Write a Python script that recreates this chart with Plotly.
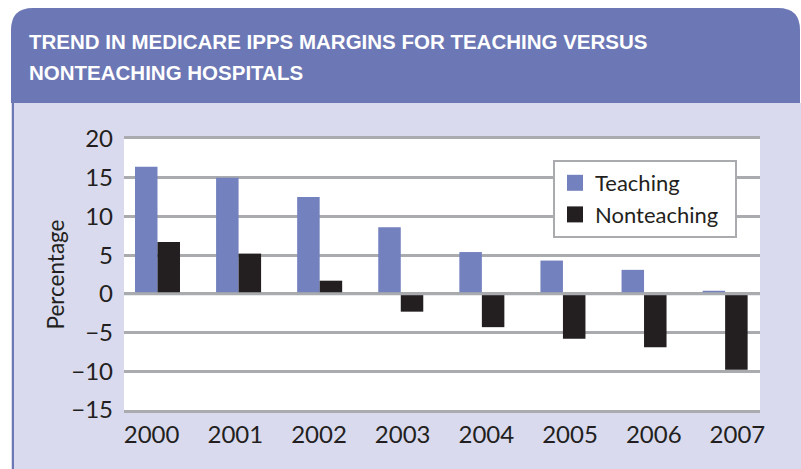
import plotly.graph_objects as go

years = ["2000", "2001", "2002", "2003", "2004", "2005", "2006", "2007"]
teaching = [16.4, 15.0, 12.5, 8.6, 5.4, 4.3, 3.1, 0.4]
nonteaching = [6.7, 5.2, 1.7, -2.3, -4.3, -5.8, -6.9, -9.8]
y_ticks = [20, 15, 10, 5, 0, -5, -10, -15]
y_tick_labels = ["20", "15", "10", "5", "0", "\u22125", "\u221210", "\u221215"]
title_lines = ["TREND IN MEDICARE IPPS MARGINS FOR TEACHING VERSUS",
               "NONTEACHING HOSPITALS"]

W, H = 801, 469
# plot area in window pixels: x 124..760, y 139..410
L, T = 124, 139
R, B = W - 760, H - 410
PW, PH = W - L - R, H - T - B


def px(x):
    return (x - L) / PW


def py(y):
    return (H - B - y) / PH


HEADER = "#6c77b5"
BODY = "#d9daee"
GRID = "#a9abae"
TXT = "#231f20"
TEACH = "#7381bf"
FONT = "Lato, 'Open Sans', sans-serif"

fig = go.Figure()
fig.add_trace(go.Bar(x=years, y=teaching, name="Teaching", showlegend=False,
                     marker=dict(color=TEACH, line=dict(width=0))))
fig.add_trace(go.Bar(x=years, y=nonteaching, name="Nonteaching", showlegend=False,
                     marker=dict(color=TXT, line=dict(width=0))))
# legend entries with larger square keys
fig.add_trace(go.Scatter(x=[None], y=[None], mode="markers", name="Teaching",
                         marker=dict(symbol="square", size=16, color=TEACH, line=dict(width=0))))
fig.add_trace(go.Scatter(x=[None], y=[None], mode="markers", name="Nonteaching\u2002",
                         marker=dict(symbol="square", size=16, color=TXT, line=dict(width=0))))
# carrier for the (separately spaced) year labels
fig.add_trace(go.Scatter(x=list(range(len(years))), y=[None] * len(years), xaxis="x2",
                         showlegend=False, hoverinfo="skip", mode="markers"))

shapes = []
# body
shapes.append(dict(type="rect", xref="paper", yref="paper", x0=px(11), x1=px(810),
                   y0=py(103), y1=py(480), fillcolor=BODY, line=dict(width=0), layer="below"))
# left border line
shapes.append(dict(type="line", xref="paper", yref="paper", x0=px(13), x1=px(13),
                   y0=py(100), y1=py(480), line=dict(color=HEADER, width=2), layer="below"))
# header with rounded top corners
r = 22
x0, x1, y0, y1 = 11, 800, 8, 103
path = (f"M {px(x0)} {py(y1)} L {px(x0)} {py(y0 + r)} "
        f"Q {px(x0)} {py(y0)} {px(x0 + r)} {py(y0)} "
        f"L {px(x1 - r)} {py(y0)} Q {px(x1)} {py(y0)} {px(x1)} {py(y0 + r)} "
        f"L {px(x1)} {py(y1)} Z")
shapes.append(dict(type="path", xref="paper", yref="paper", path=path,
                   fillcolor=HEADER, line=dict(width=0), layer="below"))
# plot area white
shapes.append(dict(type="rect", xref="paper", yref="paper", x0=0, x1=1, y0=0, y1=1,
                   fillcolor="white", line=dict(width=0), layer="below"))
# zero line drawn above bars
shapes.append(dict(type="line", xref="paper", yref="y", x0=0, x1=1, y0=0, y1=0,
                   line=dict(color=GRID, width=3), layer="above"))

annotations = []
for i, line in enumerate(title_lines):
    annotations.append(dict(text=line, xref="paper", yref="paper", x=px(27), y=py(41 + 32 * i),
                            xanchor="left", yanchor="middle", showarrow=False,
                            font=dict(family="'Liberation Sans', Arial, sans-serif",
                                      size=20.5, color="white", weight="bold")))

fig.update_layout(
    width=W, height=H,
    margin=dict(l=L, r=R, t=T, b=B, pad=0),
    paper_bgcolor="white", plot_bgcolor="white",
    barmode="group", bargap=0.445, bargroupgap=0,
    shapes=shapes, annotations=annotations,
    font=dict(family=FONT, color=TXT),
    showlegend=True,
    legend=dict(x=px(553), y=py(160), xanchor="left", yanchor="top",
                bgcolor="white", bordercolor=GRID, borderwidth=2,
                font=dict(size=22, color=TXT, family=FONT), itemwidth=30,
                itemsizing="trace", tracegroupgap=0),
    xaxis=dict(type="category", range=[-0.413, 7.43], showticklabels=False,
               showgrid=False, showline=True, linecolor=GRID, linewidth=3, mirror=True,
               ticks="", fixedrange=True),
    xaxis2=dict(overlaying="x", anchor="y", side="bottom", range=[-0.33, 7.27],
                tickmode="array", tickvals=list(range(len(years))), ticktext=years,
                showgrid=False, zeroline=False, showline=False, ticks="",
                tickfont=dict(size=24, color=TXT, family=FONT), ticklabelstandoff=8),
    yaxis=dict(range=[-15, 20], tickmode="array", tickvals=y_ticks, ticktext=y_tick_labels,
               showgrid=True, gridcolor=GRID, gridwidth=3,
               zeroline=False, showline=False, ticks="",
               tickfont=dict(size=24, color=TXT, family=FONT), ticklabelstandoff=10,
               title=dict(text="Percentage", font=dict(size=22.5, color=TXT, family=FONT),
                          standoff=0)),
)

fig.write_html("out.html", config={"displayModeBar": False},
               post_script="document.body.style.margin='0px';")
